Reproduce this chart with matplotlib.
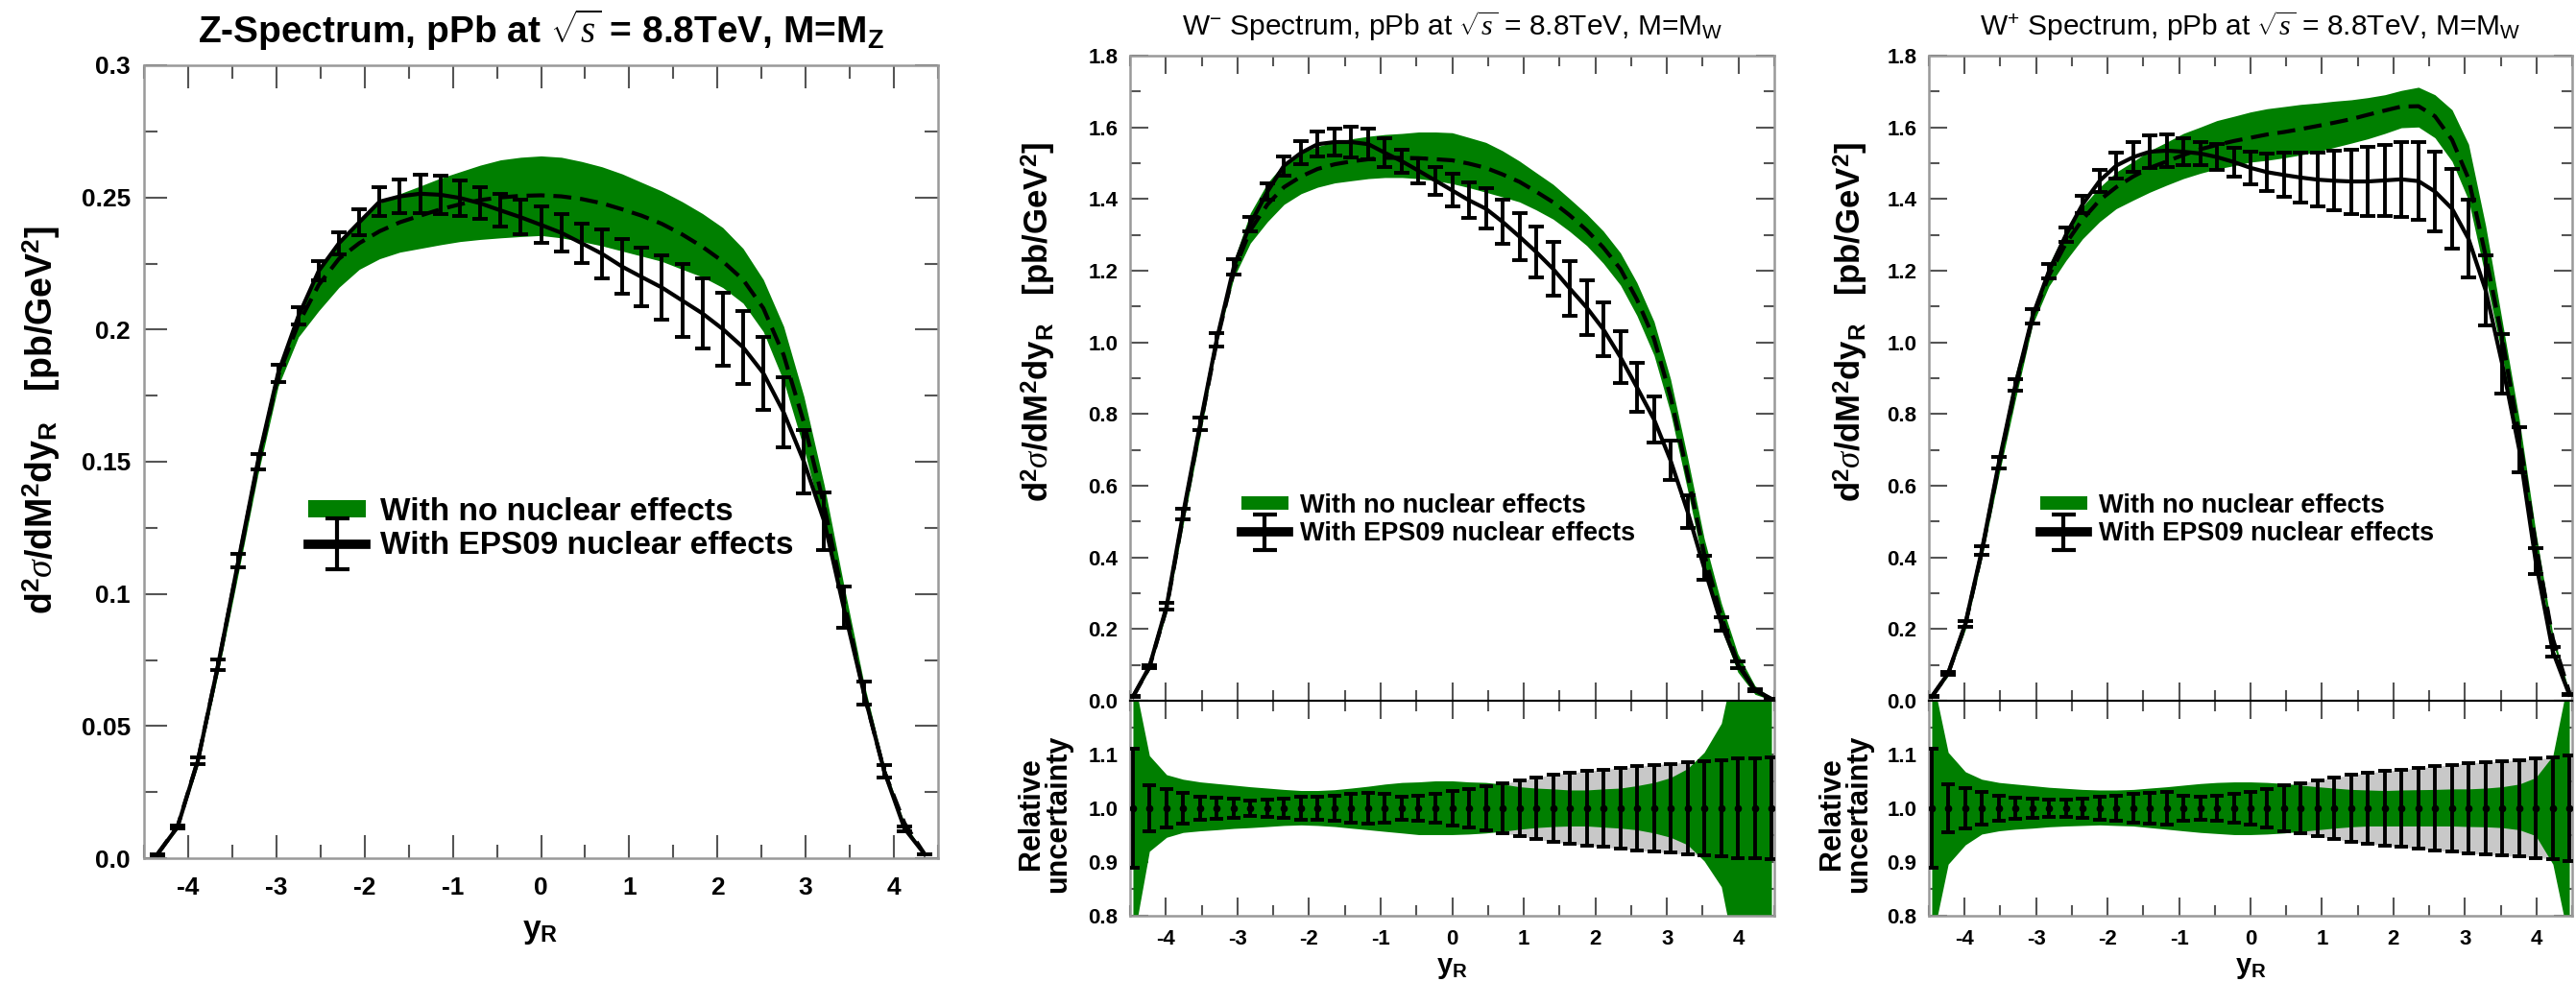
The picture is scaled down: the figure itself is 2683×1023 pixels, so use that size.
import numpy as np
import matplotlib
matplotlib.use("Agg")
import matplotlib.pyplot as plt
from matplotlib.patches import Patch
from matplotlib.ticker import MultipleLocator, FuncFormatter
from matplotlib.legend_handler import HandlerErrorbar
from matplotlib.container import ErrorbarContainer

plt.rcParams["font.family"] = ["Liberation Sans", "DejaVu Sans"]
plt.rcParams["mathtext.fontset"] = "custom"
plt.rcParams["mathtext.rm"] = "Liberation Sans"
plt.rcParams["mathtext.bf"] = "Liberation Sans:bold"
plt.rcParams["mathtext.it"] = "Liberation Serif:italic"
plt.rcParams["axes.unicode_minus"] = False

# ---------------- data ----------------
# Z spectrum
y_z = [-4.35, -4.12, -3.89, -3.66, -3.43, -3.21, -2.98, -2.75, -2.52, -2.29, -2.06, -1.83, -1.60,
       -1.37, -1.14, -0.92, -0.69, -0.46, -0.23, 0.0, 0.23, 0.46, 0.69, 0.92, 1.14, 1.37, 1.60,
       1.83, 2.06, 2.29, 2.52, 2.75, 2.98, 3.21, 3.43, 3.66, 3.89, 4.12, 4.35]
z_eps = [0.0014, 0.0118, 0.0368, 0.0732, 0.1126, 0.150, 0.1835, 0.2051, 0.2222, 0.2327, 0.2406,
         0.2484, 0.2504, 0.2514, 0.2510, 0.2498, 0.2478, 0.2451, 0.2425, 0.2396, 0.2366, 0.2327,
         0.2287, 0.2238, 0.2199, 0.2159, 0.2110, 0.2061, 0.2002, 0.1933, 0.1835, 0.1687, 0.150,
         0.1274, 0.0949, 0.0624, 0.0329, 0.0112, 0.0014]
z_eps_rel = [0.10, 0.045, 0.035, 0.028, 0.022, 0.019, 0.018, 0.016, 0.016, 0.018, 0.020, 0.022,
             0.025, 0.029, 0.029, 0.027, 0.024, 0.025, 0.027, 0.029, 0.030, 0.032, 0.040, 0.046,
             0.051, 0.057, 0.065, 0.064, 0.069, 0.071, 0.075, 0.078, 0.081, 0.085, 0.083, 0.070,
             0.070, 0.080, 0.090]
z_free = [0.0014, 0.012, 0.037, 0.073, 0.112, 0.149, 0.1825, 0.2022, 0.2169, 0.2268, 0.2327,
          0.2372, 0.2406, 0.2431, 0.2455, 0.2474, 0.2490, 0.2500, 0.2506, 0.2508, 0.2504, 0.2494,
          0.2478, 0.2455, 0.2431, 0.2400, 0.2360, 0.2313, 0.2258, 0.2189, 0.2081, 0.1904, 0.1648,
          0.1333, 0.0978, 0.0624, 0.0329, 0.0132, 0.0014]
z_free_hi = [0.002, 0.013, 0.039, 0.076, 0.115, 0.152, 0.1854, 0.207, 0.2228, 0.2337, 0.2415,
             0.2478, 0.2514, 0.2543, 0.2573, 0.2597, 0.2622, 0.2642, 0.2652, 0.2657, 0.2652,
             0.2636, 0.2616, 0.2589, 0.2557, 0.2524, 0.2484, 0.2439, 0.2386, 0.2307, 0.2189,
             0.2012, 0.1746, 0.1411, 0.1037, 0.0663, 0.0348, 0.0132, 0.0015]
z_free_lo = [0.001, 0.011, 0.035, 0.070, 0.108, 0.145, 0.1785, 0.1972, 0.2071, 0.216, 0.2228,
             0.2268, 0.2293, 0.2307, 0.2321, 0.2333, 0.2341, 0.2347, 0.2352, 0.2356, 0.2347,
             0.2333, 0.2317, 0.2297, 0.2278, 0.2258, 0.2228, 0.2199, 0.2159, 0.2100, 0.1992,
             0.1805, 0.1549, 0.1254, 0.0929, 0.0594, 0.0309, 0.0112, 0.0013]

# W spectra share the rapidity grid
y_w = [-4.46, -4.23, -3.99, -3.76, -3.52, -3.29, -3.05, -2.82, -2.58, -2.35, -2.11, -1.88, -1.64,
       -1.41, -1.17, -0.94, -0.70, -0.47, -0.23, 0.0, 0.23, 0.47, 0.70, 0.94, 1.17, 1.41, 1.64,
       1.88, 2.11, 2.35, 2.58, 2.82, 3.05, 3.29, 3.52, 3.76, 3.99, 4.23, 4.46]

# W-
wm_eps = [0.011, 0.095, 0.263, 0.521, 0.773, 1.007, 1.211, 1.331, 1.421, 1.493, 1.529, 1.553,
          1.559, 1.559, 1.553, 1.529, 1.505, 1.479, 1.451, 1.424, 1.397, 1.373, 1.337, 1.295,
          1.253, 1.205, 1.151, 1.097, 1.037, 0.959, 0.875, 0.785, 0.671, 0.527, 0.371, 0.215,
          0.101, 0.029, 0.005]
wm_eps_rel = [0.110, 0.043, 0.036, 0.029, 0.022, 0.019, 0.018, 0.015, 0.016, 0.018, 0.021, 0.022,
              0.024, 0.027, 0.028, 0.026, 0.021, 0.024, 0.027, 0.032, 0.036, 0.041, 0.046, 0.051,
              0.057, 0.0625, 0.066, 0.069, 0.072, 0.075, 0.078, 0.081, 0.083, 0.086, 0.088, 0.090,
              0.092, 0.093, 0.094]
wm_free = [0.011, 0.093, 0.258, 0.512, 0.765, 1.001, 1.199, 1.313, 1.385, 1.433, 1.463, 1.484,
           1.497, 1.505, 1.511, 1.515, 1.515, 1.514, 1.511, 1.508, 1.499, 1.487, 1.469, 1.448,
           1.421, 1.391, 1.355, 1.313, 1.265, 1.205, 1.120, 1.010, 0.850, 0.630, 0.410, 0.235,
           0.105, 0.030, 0.005]
wm_free_hi = [0.012, 0.10, 0.272, 0.535, 0.79, 1.013, 1.229, 1.361, 1.445, 1.499, 1.529, 1.547,
              1.559, 1.568, 1.575, 1.580, 1.583, 1.587, 1.587, 1.585, 1.572, 1.558, 1.535, 1.506,
              1.474, 1.441, 1.401, 1.358, 1.311, 1.250, 1.167, 1.058, 0.898, 0.677, 0.453, 0.272,
              0.131, 0.042, 0.008]
wm_free_lo = [0.009, 0.086, 0.245, 0.49, 0.74, 0.995, 1.181, 1.277, 1.337, 1.385, 1.415, 1.433,
              1.445, 1.451, 1.457, 1.460, 1.460, 1.457, 1.451, 1.443, 1.432, 1.419, 1.406, 1.392,
              1.370, 1.344, 1.310, 1.270, 1.221, 1.160, 1.075, 0.964, 0.804, 0.587, 0.370, 0.201,
              0.080, 0.018, 0.002]
wm_ratio_hi = [1.25, 1.098, 1.0625, 1.054, 1.049, 1.046, 1.043, 1.040, 1.0375, 1.035, 1.033, 1.033,
               1.0345, 1.0375, 1.041, 1.045, 1.048, 1.049, 1.051, 1.051, 1.049, 1.048, 1.045, 1.040,
               1.0375, 1.036, 1.034, 1.034, 1.036, 1.0375, 1.042, 1.048, 1.057, 1.074, 1.104, 1.158,
               1.30, 1.45, 1.60]
wm_ratio_lo = [0.75, 0.92, 0.946, 0.955, 0.958, 0.960, 0.9625, 0.964, 0.966, 0.968, 0.969, 0.968,
               0.966, 0.963, 0.960, 0.957, 0.954, 0.951, 0.951, 0.951, 0.952, 0.954, 0.957, 0.961,
               0.964, 0.966, 0.967, 0.967, 0.965, 0.963, 0.960, 0.954, 0.946, 0.932, 0.902, 0.854,
               0.70, 0.55, 0.40]

# W+
wp_eps = [0.011, 0.077, 0.215, 0.419, 0.665, 0.881, 1.073, 1.199, 1.301, 1.385, 1.451, 1.493,
          1.517, 1.532, 1.535, 1.532, 1.527, 1.517, 1.503, 1.487, 1.475, 1.467, 1.460, 1.454,
          1.451, 1.449, 1.449, 1.452, 1.455, 1.450, 1.421, 1.373, 1.289, 1.145, 0.941, 0.701,
          0.389, 0.137, 0.017]
wp_eps_rel = [0.110, 0.045, 0.0375, 0.030, 0.024, 0.019, 0.018, 0.016, 0.016, 0.018, 0.021, 0.024,
              0.027, 0.029, 0.030, 0.024, 0.021, 0.024, 0.027, 0.031, 0.036, 0.042, 0.047, 0.052,
              0.057, 0.062, 0.066, 0.069, 0.072, 0.075, 0.078, 0.081, 0.084, 0.086, 0.088, 0.090,
              0.092, 0.094, 0.099]
wp_free = [0.011, 0.076, 0.212, 0.414, 0.658, 0.872, 1.067, 1.187, 1.277, 1.343, 1.397, 1.433,
           1.463, 1.487, 1.505, 1.523, 1.539, 1.551, 1.562, 1.571, 1.580, 1.587, 1.595, 1.604,
           1.613, 1.623, 1.635, 1.647, 1.658, 1.659, 1.631, 1.565, 1.457, 1.241, 1.013, 0.737,
           0.437, 0.173, 0.023]
wp_free_hi = [0.012, 0.085, 0.228, 0.437, 0.69, 0.91, 1.085, 1.217, 1.313, 1.379, 1.433, 1.475,
              1.505, 1.535, 1.559, 1.583, 1.601, 1.619, 1.631, 1.643, 1.652, 1.658, 1.664, 1.668,
              1.673, 1.677, 1.683, 1.691, 1.703, 1.712, 1.691, 1.649, 1.553, 1.325, 1.061, 0.785,
              0.473, 0.185, 0.025]
wp_free_lo = [0.010, 0.069, 0.198, 0.397, 0.63, 0.84, 1.049, 1.157, 1.229, 1.289, 1.337, 1.373,
              1.397, 1.419, 1.439, 1.457, 1.472, 1.484, 1.493, 1.503, 1.508, 1.515, 1.523, 1.532,
              1.544, 1.556, 1.568, 1.583, 1.599, 1.601, 1.571, 1.505, 1.397, 1.181, 0.965, 0.701,
              0.413, 0.161, 0.021]
wp_ratio_hi = [1.25, 1.104, 1.068, 1.054, 1.048, 1.045, 1.042, 1.039, 1.037, 1.035, 1.034, 1.034,
               1.035, 1.0375, 1.040, 1.043, 1.046, 1.048, 1.049, 1.049, 1.048, 1.046, 1.043, 1.040,
               1.0375, 1.035, 1.034, 1.033, 1.034, 1.0345, 1.035, 1.036, 1.036, 1.0375, 1.040,
               1.045, 1.057, 1.098, 1.25]
wp_ratio_lo = [0.75, 0.896, 0.932, 0.952, 0.958, 0.961, 0.963, 0.9655, 0.967, 0.968, 0.969, 0.968,
               0.967, 0.964, 0.961, 0.958, 0.955, 0.953, 0.951, 0.951, 0.952, 0.954, 0.957, 0.960,
               0.963, 0.9655, 0.967, 0.967, 0.967, 0.967, 0.967, 0.967, 0.966, 0.9655, 0.964,
               0.960, 0.949, 0.896, 0.75]

label_free = "With no nuclear effects"
label_eps = "With EPS09 nuclear effects"

GREEN = "#007f00"
GREY = "#c8c8c8"
W, H = 2683, 1023


def rect(l, t, r, b):
    return [l / W, 1 - b / H, (r - l) / W, (b - t) / H]


def style_axes(ax, size, major_len, minor_len, pad_x, pad_y):
    ax.tick_params(which="both", direction="in", top=True, right=True,
                   width=1.5, color="#555555", labelsize=size)
    ax.tick_params(which="major", length=major_len)
    ax.tick_params(which="minor", length=minor_len)
    ax.tick_params(axis="x", pad=pad_x)
    ax.tick_params(axis="y", pad=pad_y)
    for s in ax.spines.values():
        s.set_color("#999999")
        s.set_linewidth(1.8)
    ax.xaxis.set_major_locator(MultipleLocator(1))
    ax.xaxis.set_minor_locator(MultipleLocator(0.5))
    ax.xaxis.set_major_formatter(FuncFormatter(lambda v, p: "%d" % round(v)))
    ax.set_xlim(-4.5, 4.5)


def bold_ticks(ax):
    for lab in ax.get_xticklabels() + ax.get_yticklabels():
        lab.set_fontweight("bold")


def draw_main(ax, x, lo, hi, free, eps, rel):
    eps = np.array(eps)
    ax.fill_between(x, lo, hi, color=GREEN, lw=0, zorder=1)
    ax.plot(x, free, color="k", ls=(0, (4.5, 2.2)), lw=3, zorder=3)
    ax.errorbar(x, eps, yerr=eps * np.array(rel), fmt="-", color="k", lw=3,
                elinewidth=2.8, capsize=6, capthick=2.8, zorder=4)


def add_legend(ax, size, anchor, yerr_size):
    patch = Patch(facecolor=GREEN, edgecolor="none")
    proxy = ax.errorbar([np.nan], [np.nan], yerr=[np.nan], fmt="-", color="k", lw=7,
                        elinewidth=3, capsize=9, capthick=3)
    ax.legend([patch, proxy], [label_free, label_eps], loc="upper left",
              bbox_to_anchor=anchor, frameon=False, borderpad=0, borderaxespad=0,
              handlelength=1.8, handleheight=0.45, handletextpad=0.45, labelspacing=0.12,
              prop={"weight": "bold", "size": size},
              handler_map={ErrorbarContainer: HandlerErrorbar(xerr_size=0.5, yerr_size=yerr_size)})


fig = plt.figure(figsize=(W / 100, H / 100), dpi=100)

# ---------------- Z panel ----------------
ax1 = fig.add_axes(rect(150, 68, 977, 894))
draw_main(ax1, y_z, z_free_lo, z_free_hi, z_free, z_eps, z_eps_rel)
style_axes(ax1, 19, 17, 10, 14, 10)
ax1.set_ylim(0, 0.3)
ax1.yaxis.set_major_locator(MultipleLocator(0.05))
ax1.yaxis.set_minor_locator(MultipleLocator(0.025))
ax1.yaxis.set_major_formatter(FuncFormatter(lambda v, p: "0.0" if abs(v) < 1e-9 else "%g" % v))
bold_ticks(ax1)
add_legend(ax1, 24, (0.207, 0.455), 0.8)
fig.text(563 / W, 1 - 45 / H, r"Z-Spectrum, pPb at $\sqrt{s}$ = 8.8TeV, M=M$_\mathbf{Z}$",
         ha="center", va="baseline", fontsize=28, fontweight="bold")
fig.text(43 / W, 1 - 438 / H,
         r"d$^\mathbf{2}\sigma$/dM$^\mathbf{2}$dy$_\mathbf{R}$   [pb/GeV$^\mathbf{2}$]",
         rotation=90, ha="center", va="center", fontsize=27, fontweight="bold")
fig.text(563 / W, 1 - 970 / H, r"y$_\mathbf{R}$", ha="center", va="center",
         fontsize=24, fontweight="bold")

# ---------------- W panels ----------------
w_panels = [
    (1177, 1848, r"W$^{-}$ Spectrum, pPb at $\sqrt{s}$ = 8.8TeV, M=M$_{\rm W}$",
     wm_free_lo, wm_free_hi, wm_free, wm_eps, wm_eps_rel, wm_ratio_lo, wm_ratio_hi, 1082, 1088),
    (2009, 2679, r"W$^{+}$ Spectrum, pPb at $\sqrt{s}$ = 8.8TeV, M=M$_{\rm W}$",
     wp_free_lo, wp_free_hi, wp_free, wp_eps, wp_eps_rel, wp_ratio_lo, wp_ratio_hi, 1928, 1922),
]

for (left, right, title, lo, hi, free, eps, rel, rlo, rhi, ylab_x, rlab_x) in w_panels:
    ax = fig.add_axes(rect(left, 58, right, 730))
    draw_main(ax, y_w, lo, hi, free, eps, rel)
    style_axes(ax, 16, 14, 8, 10, 9)
    ax.set_ylim(0, 1.8)
    ax.yaxis.set_major_locator(MultipleLocator(0.2))
    ax.yaxis.set_minor_locator(MultipleLocator(0.1))
    ax.yaxis.set_major_formatter(FuncFormatter(lambda v, p: "%.1f" % v))
    bold_ticks(ax)
    ax.tick_params(axis="x", labelbottom=False)
    ax.spines["bottom"].set_color("k")
    ax.spines["bottom"].set_linewidth(1.5)
    add_legend(ax, 19.5, ((1293 - 1177) / 671, 0.322), 0.67)

    # relative uncertainty panel
    rax = fig.add_axes(rect(left, 730, right, 954))
    r_eps = np.array(rel)
    rax.fill_between(y_w, 1 - r_eps, 1 + r_eps, color=GREY, lw=0, zorder=1)
    rax.fill_between(y_w, rlo, rhi, color=GREEN, lw=0, zorder=2)
    rax.errorbar(y_w, np.ones(len(y_w)), yerr=r_eps, fmt="o", color="k", ms=4.5,
                 elinewidth=2.8, capsize=5, capthick=2.8, zorder=4)
    style_axes(rax, 16, 14, 8, 10, 9)
    rax.set_ylim(0.8, 1.2)
    rax.yaxis.set_major_locator(MultipleLocator(0.1))
    rax.yaxis.set_minor_locator(MultipleLocator(0.05))
    rax.yaxis.set_major_formatter(FuncFormatter(lambda v, p: "" if v > 1.15 else "%.1f" % v))
    bold_ticks(rax)
    rax.spines["top"].set_color("k")
    rax.spines["top"].set_linewidth(1.5)

    mid = (left + right) / 2
    fig.text(mid / W, 1 - 37 / H, title, ha="center", va="baseline", fontsize=21.5)
    fig.text(ylab_x / W, 1 - 335 / H,
             r"d$^\mathbf{2}\sigma$/dM$^\mathbf{2}$dy$_\mathbf{R}$   [pb/GeV$^\mathbf{2}$]",
             rotation=90, ha="center", va="center", fontsize=25, fontweight="bold")
    fig.text(rlab_x / W, 1 - 848 / H, "Relative\nuncertainty", rotation=90, ha="center",
             va="center", fontsize=22, fontweight="bold", linespacing=0.95)
    fig.text(mid / W, 1 - 1008 / H, r"y$_\mathbf{R}$", ha="center", va="center",
             fontsize=21, fontweight="bold")

fig.savefig("out.png", dpi=100)
